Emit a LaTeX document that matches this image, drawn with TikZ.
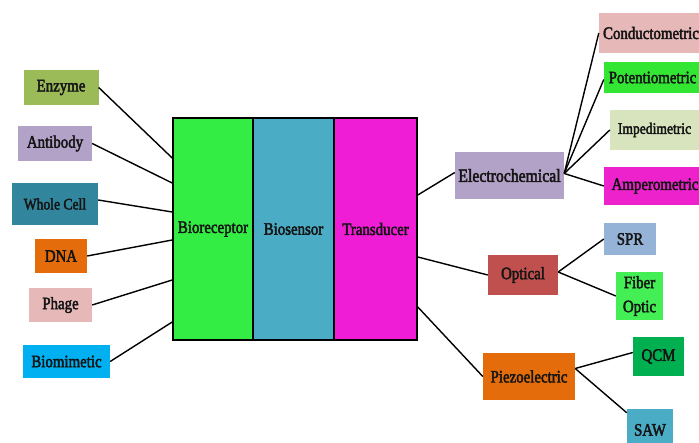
\documentclass[tikz,border=0pt]{standalone}
\usepackage{fontspec}
\setmainfont{Liberation Serif}[FakeStretch=0.85,FakeBold=2.5]
\definecolor{cEnz}{HTML}{9BBB59}
\definecolor{cLav}{HTML}{B3A2C7}
\definecolor{cTeal}{HTML}{31859C}
\definecolor{cOrange}{HTML}{E46C0A}
\definecolor{cPink}{HTML}{E6B9B8}
\definecolor{cSky}{HTML}{00B0F0}
\definecolor{cGreen}{HTML}{33EC44}
\definecolor{cBlue}{HTML}{4BACC6}
\definecolor{cMag}{HTML}{F01DD6}
\definecolor{cPot}{HTML}{33E633}
\definecolor{cImp}{HTML}{D7E4BD}
\definecolor{cAmp}{HTML}{EE22CC}
\definecolor{cRed}{HTML}{C0504D}
\definecolor{cSpr}{HTML}{95B3D7}
\definecolor{cFib}{HTML}{44EE55}
\definecolor{cQcm}{HTML}{00B050}
\definecolor{cTxt}{HTML}{151515}
\tikzset{
  box/.style={rectangle, inner sep=0pt, text=cTxt, font=\fontsize{17.5}{24}\selectfont, align=center},
  blockpart/.style={box, draw=black, line width=1.6pt, minimum width=81pt, minimum height=222pt},
  conn/.style={draw=black, line width=1.4pt}
}
\begin{document}
\begin{tikzpicture}[x=1pt,y=-1pt]
\useasboundingbox (0,0) rectangle (699,443);
\clip (0,0) rectangle (699,443);
% central block
\node[blockpart, fill=cGreen, minimum width=80pt] (biorec) at (213,229) {Bioreceptor};
\node[blockpart, fill=cBlue] (biosen) at (293.5,229) {Biosensor};
\node[blockpart, fill=cMag, minimum width=83pt] (trans) at (375.5,229) {Transducer};
% left boxes
\node[box, fill=cEnz, minimum width=75pt, minimum height=35pt] (enzyme) at (61,87.5) {Enzyme};
\node[box, fill=cLav, minimum width=74pt, minimum height=35pt] (antibody) at (55,143.5) {Antibody};
\node[box, fill=cTeal, minimum width=86pt, minimum height=42pt, font=\fontsize{16}{20}\selectfont] (whole) at (55,204) {Whole Cell};
\node[box, fill=cOrange, minimum width=52pt, minimum height=34pt] (dna) at (61,256) {DNA};
\node[box, fill=cPink, minimum width=63pt, minimum height=34pt] (phage) at (60.5,305) {Phage};
\node[box, fill=cSky, minimum width=87pt, minimum height=33pt] (biomim) at (66.5,361.5) {Biomimetic};
% right boxes
\node[box, fill=cLav, minimum width=109pt, minimum height=47pt, font=\fontsize{18.5}{24}\selectfont] (electro) at (509.5,175.5) {Electrochemical};
\node[box, fill=cPink, minimum width=104pt, minimum height=40pt] (conduct) at (651,33) {Conductometric};
\node[box, fill=cPot, minimum width=97pt, minimum height=31pt] (potentio) at (652.5,77.5) {Potentiometric};
\node[box, fill=cImp, minimum width=89pt, minimum height=40pt, font=\fontsize{16}{20}\selectfont] (imped) at (654.5,130) {Impedimetric};
\node[box, fill=cAmp, minimum width=102pt, minimum height=38pt] (ampero) at (655,186) {Amperometric};
\node[box, fill=cRed, minimum width=70pt, minimum height=40pt] (optical) at (523,275) {Optical};
\node[box, fill=cSpr, minimum width=52pt, minimum height=32pt] (spr) at (630,239) {SPR};
\node[box, fill=cFib, minimum width=47pt, minimum height=48pt] (fiber) at (639.5,296) {Fiber\\Optic};
\node[box, fill=cOrange, minimum width=92pt, minimum height=47pt] (piezo) at (529,376.5) {Piezoelectric};
\node[box, fill=cQcm, minimum width=51pt, minimum height=39pt] (qcm) at (658.5,356.5) {QCM};
\node[box, fill=cBlue, minimum width=46pt, minimum height=42pt] (saw) at (650,430) {SAW};
% left connectors
\draw[conn] (enzyme.east) -- ([yshift=71pt]biorec.west);
\draw[conn] (antibody.east) -- ([yshift=46pt]biorec.west);
\draw[conn] ([yshift=4pt]whole.east) -- ([yshift=17pt]biorec.west);
\draw[conn] (dna.east) -- ([yshift=-11pt]biorec.west);
\draw[conn] (phage.east) -- ([yshift=-51pt]biorec.west);
\draw[conn] (biomim.east) -- ([yshift=-93pt]biorec.west);
% right connectors
\draw[conn] ([yshift=34pt]trans.east) -- ([yshift=3pt]electro.west);
\draw[conn] ([yshift=-28pt]trans.east) -- (optical.west);
\draw[conn] ([yshift=-78pt]trans.east) -- (piezo.west);
\draw[conn] ([yshift=2pt]electro.east) -- (conduct.west);
\draw[conn] ([yshift=2pt]electro.east) -- ([yshift=-2pt]potentio.west);
\draw[conn] ([yshift=2pt]electro.east) -- (imped.west);
\draw[conn] ([yshift=2pt]electro.east) -- (ampero.west);
\draw[conn] ([yshift=3pt]optical.east) -- (spr.west);
\draw[conn] ([yshift=3pt]optical.east) -- (fiber.west);
\draw[conn] ([yshift=8pt]piezo.east) -- ([yshift=4pt]qcm.west);
\draw[conn] ([yshift=8pt]piezo.east) -- ([yshift=-4pt]saw.north west);
\end{tikzpicture}
\end{document}
